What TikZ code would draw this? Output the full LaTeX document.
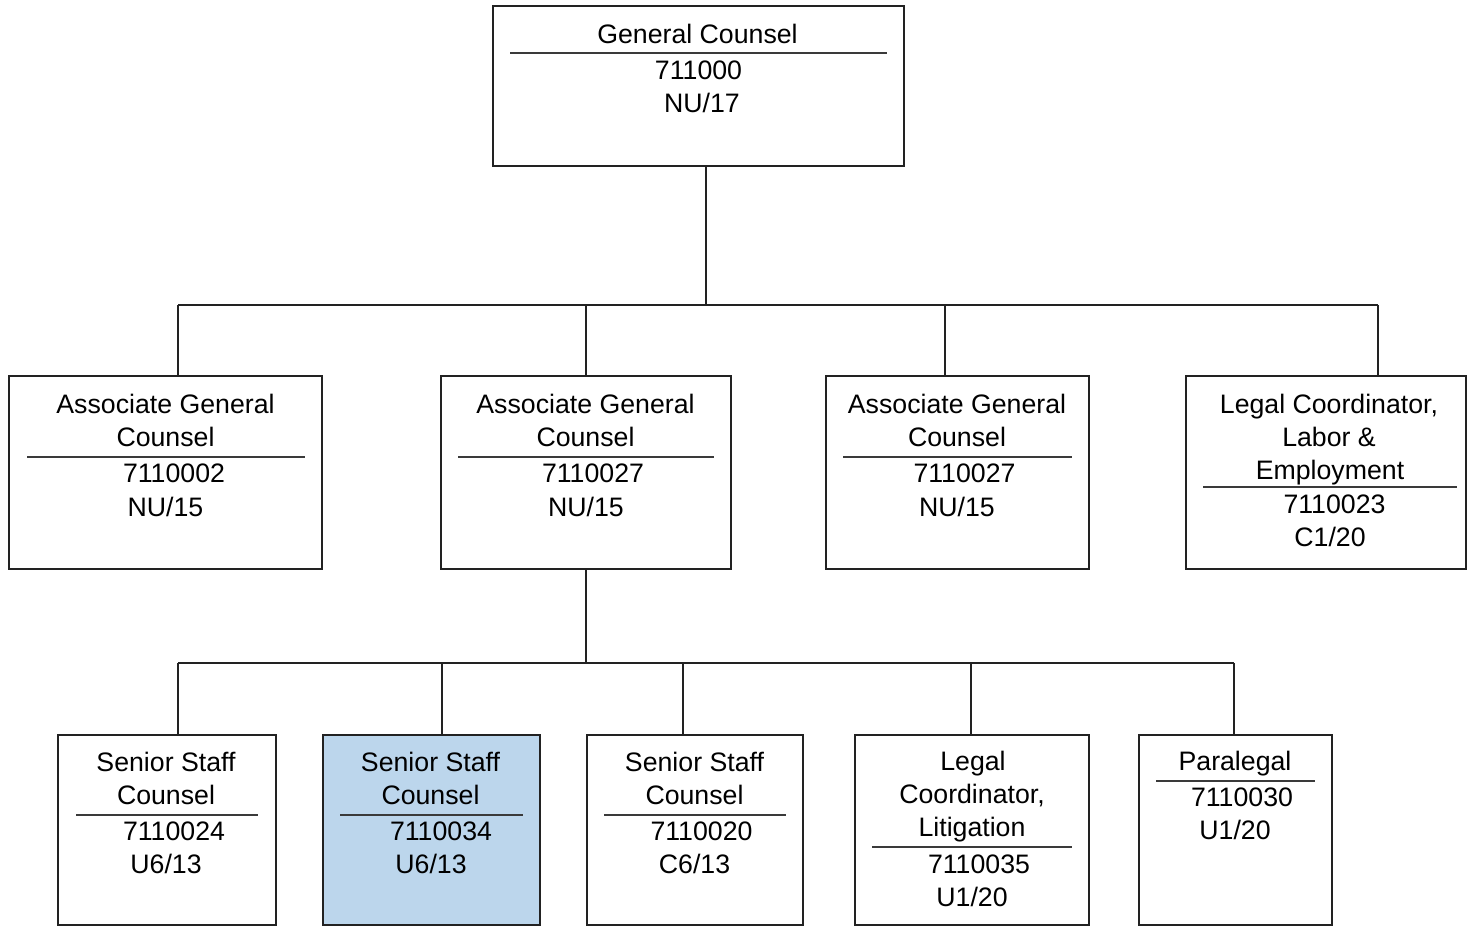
\documentclass[tikz,border=0pt]{standalone}
\usepackage{fontspec}
\setmainfont{Liberation Sans}
\definecolor{ink}{HTML}{222222}
\definecolor{ruleink}{HTML}{3A3A3A}
\definecolor{hilite}{HTML}{BCD6EC}
\tikzset{
  orgbox/.style={draw=ink, line width=2.8pt, rectangle, inner sep=0pt},
  link/.style={draw=ink, line width=2.4pt},
  divider/.style={draw=ruleink, line width=1.8pt},
  lbl/.style={anchor=base, inner sep=0pt, text=black, font=\fontsize{26.7pt}{33pt}\selectfont}
}
\begin{document}
\begin{tikzpicture}[x=1pt, y=-1pt]
\useasboundingbox (0,0) rectangle (1467,927);

% ---- boxes ----
\node[orgbox, minimum width=411pt, minimum height=160pt] (gc) at (698.5,86) {};
\node[orgbox, minimum width=313pt, minimum height=193pt] (a1) at (165.5,472.5) {};
\node[orgbox, minimum width=290pt, minimum height=193pt] (a2) at (586,472.5) {};
\node[orgbox, minimum width=263pt, minimum height=193pt] (a3) at (957.5,472.5) {};
\node[orgbox, minimum width=280pt, minimum height=193pt] (a4) at (1326,472.5) {};
\node[orgbox, minimum width=218pt, minimum height=190pt] (s1) at (167,830) {};
\node[orgbox, fill=hilite, minimum width=217pt, minimum height=190pt] (s2) at (431.5,830) {};
\node[orgbox, minimum width=216pt, minimum height=190pt] (s3) at (695,830) {};
\node[orgbox, minimum width=234pt, minimum height=190pt] (s4) at (972,830) {};
\node[orgbox, minimum width=193pt, minimum height=190pt] (s5) at (1235.5,830) {};

% ---- connectors ----
\coordinate (j0) at (706,305);
\coordinate (t1) at (178,305);
\coordinate (t2) at (586,305);
\coordinate (t3) at (945,305);
\coordinate (t4) at (1378,305);
\draw[link] (gc.south -| j0) -- (j0);
\draw[link] (t1) -- (t4);
\draw[link] (t1) -- (t1 |- a1.north);
\draw[link] (t2) -- (t2 |- a2.north);
\draw[link] (t3) -- (t3 |- a3.north);
\draw[link] (t4) -- (t4 |- a4.north);

\coordinate (j1) at (586,663);
\coordinate (u1) at (178,663);
\coordinate (u2) at (442,663);
\coordinate (u3) at (683,663);
\coordinate (u4) at (971,663);
\coordinate (u5) at (1234,663);
\draw[link] (a2.south -| j1) -- (j1);
\draw[link] (u1) -- (u5);
\draw[link] (u1) -- (u1 |- s1.north);
\draw[link] (u2) -- (u2 |- s2.north);
\draw[link] (u3) -- (u3 |- s3.north);
\draw[link] (u4) -- (u4 |- s4.north);
\draw[link] (u5) -- (u5 |- s5.north);

% ---- General Counsel ----
\node[lbl] (gc-a) at (697.5,43) {General Counsel};
\draw[divider] (510,53) -- (887,53);
\node[lbl] (gc-b) at (698.5,79) {711000};
\node[lbl] (gc-c) at (702,112) {NU/17};

% ---- second row ----
\node[lbl] (a1-a) at (165.5,413) {Associate General};
\node[lbl] (a1-b) at (165.5,446) {Counsel};
\draw[divider] (27,457) -- (305,457);
\node[lbl] (a1-c) at (174,482) {7110002};
\node[lbl] (a1-d) at (165.5,516) {NU/15};

\node[lbl] (a2-a) at (585.5,413) {Associate General};
\node[lbl] (a2-b) at (585.5,446) {Counsel};
\draw[divider] (458,457) -- (714,457);
\node[lbl] (a2-c) at (593,482) {7110027};
\node[lbl] (a2-d) at (586,516) {NU/15};

\node[lbl] (a3-a) at (957,413) {Associate General};
\node[lbl] (a3-b) at (957,446) {Counsel};
\draw[divider] (843,457) -- (1072,457);
\node[lbl] (a3-c) at (964.5,482) {7110027};
\node[lbl] (a3-d) at (957,516) {NU/15};

\node[lbl] (a4-a) at (1329,413) {Legal Coordinator,};
\node[lbl] (a4-b) at (1329,446) {Labor \&};
\node[lbl] (a4-c) at (1330,479) {Employment};
\draw[divider] (1203,487) -- (1457,487);
\node[lbl] (a4-d) at (1334.5,513) {7110023};
\node[lbl] (a4-e) at (1330,546) {C1/20};

% ---- third row ----
\node[lbl] (s1-a) at (166,771) {Senior Staff};
\node[lbl] (s1-b) at (166,804) {Counsel};
\draw[divider] (76,815) -- (258,815);
\node[lbl] (s1-c) at (174,840) {7110024};
\node[lbl] (s1-d) at (166,873) {U6/13};

\node[lbl] (s2-a) at (430.5,771) {Senior Staff};
\node[lbl] (s2-b) at (430.5,804) {Counsel};
\draw[divider] (340,815) -- (523,815);
\node[lbl] (s2-c) at (441,840) {7110034};
\node[lbl] (s2-d) at (431,873) {U6/13};

\node[lbl] (s3-a) at (694.5,771) {Senior Staff};
\node[lbl] (s3-b) at (694.5,804) {Counsel};
\draw[divider] (604,815) -- (786,815);
\node[lbl] (s3-c) at (701.5,840) {7110020};
\node[lbl] (s3-d) at (694.5,873) {C6/13};

\node[lbl] (s4-a) at (973,770) {Legal};
\node[lbl] (s4-b) at (972,803) {Coordinator,};
\node[lbl] (s4-c) at (972,836) {Litigation};
\draw[divider] (872,847) -- (1072,847);
\node[lbl] (s4-d) at (979,873) {7110035};
\node[lbl] (s4-e) at (972,906) {U1/20};

\node[lbl] (s5-a) at (1235,770) {Paralegal};
\draw[divider] (1156,781) -- (1315,781);
\node[lbl] (s5-b) at (1242,806) {7110030};
\node[lbl] (s5-c) at (1235,839) {U1/20};
\end{tikzpicture}
\end{document}
